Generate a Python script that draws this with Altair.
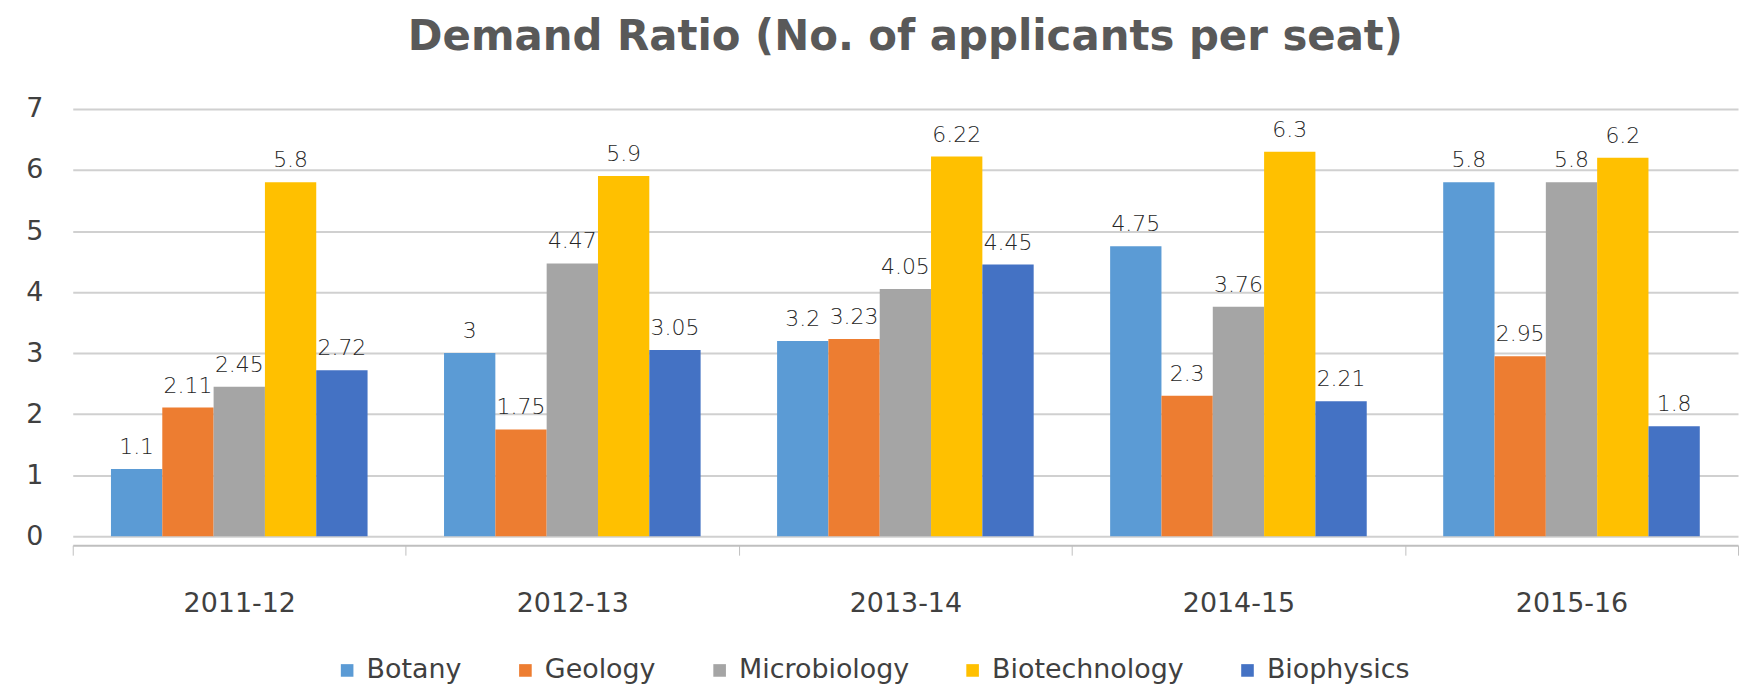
import altair as alt
import pandas as pd

years = ["2011-12", "2012-13", "2013-14", "2014-15", "2015-16"]
subjects = ["Botany", "Geology", "Microbiology", "Biotechnology", "Biophysics"]
botany = [1.1, 3, 3.2, 4.75, 5.8]
geology = [2.11, 1.75, 3.23, 2.3, 2.95]
microbiology = [2.45, 4.47, 4.05, 3.76, 5.8]
biotechnology = [5.8, 5.9, 6.22, 6.3, 6.2]
biophysics = [2.72, 3.05, 4.45, 2.21, 1.8]
colors = ["#5B9BD5", "#ED7D31", "#A5A5A5", "#FFC000", "#4472C4"]

series = [botany, geology, microbiology, biotechnology, biophysics]
rows = []
for s, vals in zip(subjects, series):
    for y, v in zip(years, vals):
        rows.append({"year": y, "subject": s, "value": v, "label": f"{v:g}"})
df = pd.DataFrame(rows)

FONT = "DejaVu Sans"

x = alt.X("year:N", sort=years, title=None,
          scale=alt.Scale(paddingInner=0, paddingOuter=0),
          axis=alt.Axis(labelAngle=0, labelFontSize=27, labelColor="#404040", labelFont=FONT,
                        labelPadding=36, tickBand="extent", tickSize=10, tickColor="#BFBFBF",
                        domainColor="#BFBFBF", domainWidth=2, offset=9, grid=False))
xo = alt.XOffset("subject:N", sort=subjects,
                 scale=alt.Scale(paddingInner=0, paddingOuter=0.745))
y = alt.Y("value:Q", title=None,
          scale=alt.Scale(domain=[0, 7], nice=False),
          axis=alt.Axis(values=[0, 1, 2, 3, 4, 5, 6, 7], labelFontSize=27, labelColor="#404040",
                        labelFont=FONT, labelPadding=30, tickSize=0, domain=False,
                        gridColor="#D0D0D0", gridWidth=2))

base = alt.Chart(df)

bars = base.mark_bar(opacity=1).encode(
    x=x, xOffset=xo, y=y,
    color=alt.Color("subject:N", sort=subjects,
                    scale=alt.Scale(domain=subjects, range=colors),
                    legend=alt.Legend(title=None, orient="none", direction="horizontal",
                                      legendX=262, legendY=550, symbolType="square",
                                      symbolSize=160, symbolStrokeWidth=0, labelFontSize=27,
                                      labelFont=FONT, labelColor="#404040", columnPadding=50,
                                      labelOffset=6, labelLimit=0)),
)

labels = base.mark_text(dy=-10, baseline="bottom", fontSize=22, font=FONT,
                        fontWeight=300, color="#262626").encode(
    x=x, xOffset=xo, y=y, text="label:N")

chart = alt.layer(bars, labels).properties(
    width=1672, height=429,
    title=alt.TitleParams("Demand Ratio (No. of applicants per seat)", fontSize=42,
                          font=FONT, fontWeight="bold", color="#595959",
                          anchor="middle", offset=36),
    autosize=alt.AutoSizeParams(type="none"),
    padding={"left": 65, "top": 100, "right": 5, "bottom": 148},
).configure_view(stroke=None).configure_axis(labelFont=FONT)

chart.save("out.html", embed_options={"renderer": "svg", "actions": False})
